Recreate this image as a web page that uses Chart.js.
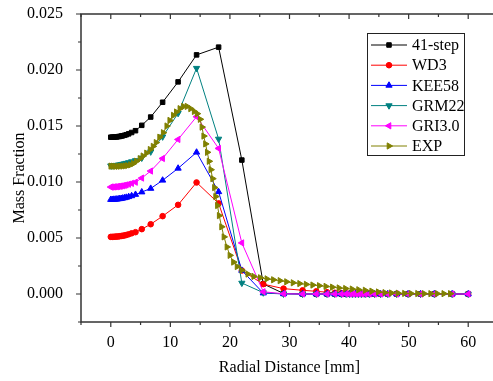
<!DOCTYPE html>
<html>
<head>
<meta charset="utf-8">
<script src="https://cdn.jsdelivr.net/npm/chart.js@4.4.0/dist/chart.umd.min.js"></script>
<style>
  html, body { margin: 0; padding: 0; overflow: hidden; background: #fff; }
  #wrap { width: 493px; height: 381px; overflow: hidden; }
</style>
</head>
<body>
<div id="wrap"><canvas id="massChart" width="500" height="381"></canvas></div>
<script>
// radial positions of the model grid [mm]
const modelX = [0, 0.25, 0.5, 0.75, 1, 1.25, 1.5, 1.75, 2, 2.3, 2.6, 3, 3.5,
    4.15, 5.2, 6.7, 8.7, 11.3, 14.4, 18.1, 22, 25.6, 29,
    32.2, 34.5, 36.3, 37.6, 38.7, 39.5, 40.1, 40.6, 41.1, 41.6, 42.1, 42.7, 43.4, 44.3, 45.3, 46.5, 48, 49.9, 52, 54.3, 57.3, 60];

const step41 = [0.01400, 0.01400, 0.01401, 0.01402, 0.01403, 0.01405, 0.01407, 0.01410, 0.01413, 0.01417, 0.01422, 0.01430, 0.01442,
    0.01458, 0.01506, 0.01580, 0.01712, 0.01894, 0.02135, 0.02204, 0.01196, 0.00090, 0.00005,
    0, 0, 0, 0, 0, 0, 0, 0, 0, 0, 0, 0, 0, 0, 0, 0, 0, 0, 0, 0, 0, 0];

const wd3 = [0.00510, 0.00510, 0.00511, 0.00512, 0.00513, 0.00514, 0.00516, 0.00518, 0.00520, 0.00523, 0.00527, 0.00533, 0.00542,
    0.00552, 0.00579, 0.00623, 0.00695, 0.00796, 0.00996, 0.00809, 0.00210, 0.00088, 0.00048,
    0.00033, 0.00024, 0.00016, 0.00011, 0.00008, 0.00006, 0.00005, 0.00004, 0.00003, 0.00003, 0.00002, 0.00002, 0.00001, 0, 0, 0, 0, 0, 0, 0, 0, 0];

const kee58 = [0.00843, 0.00843, 0.00844, 0.00845, 0.00846, 0.00848, 0.00850, 0.00852, 0.00855, 0.00858, 0.00862, 0.00868, 0.00876,
    0.00888, 0.00910, 0.00942, 0.01015, 0.01122, 0.01265, 0.00912, 0.00210, 0.00008, 0.00001,
    0, 0, 0, 0, 0, 0, 0, 0, 0, 0, 0, 0, 0, 0, 0, 0, 0, 0, 0, 0, 0, 0];

const grm22 = [0.01145, 0.01146, 0.01147, 0.01148, 0.01150, 0.01152, 0.01154, 0.01157, 0.01160, 0.01164, 0.01168, 0.01174, 0.01182,
    0.01192, 0.01215, 0.01270, 0.01404, 0.01614, 0.02016, 0.01384, 0.00098, 0.00012, 0.00001,
    0, 0, 0, 0, 0, 0, 0, 0, 0, 0, 0, 0, 0, 0, 0, 0, 0, 0, 0, 0, 0, 0];

const gri30 = [0.00955, 0.00955, 0.00956, 0.00957, 0.00958, 0.00960, 0.00962, 0.00964, 0.00967, 0.00970, 0.00974, 0.00980, 0.00988,
    0.00998, 0.01035, 0.01098, 0.01210, 0.01380, 0.01583, 0.01300, 0.00456, 0.00020, 0.00002,
    0, 0, 0, 0, 0, 0, 0, 0, 0, 0, 0, 0, 0, 0, 0, 0, 0, 0, 0, 0, 0, 0];

// experiment
const expX = [0, 0.4, 0.8, 1.2, 1.6, 2.0, 2.4, 2.8, 3.3, 3.8, 4.3, 4.9, 5.4, 6.0, 6.6, 7.1, 7.6, 8.2, 8.8, 9.4,
    9.9, 10.5, 11.0, 11.6, 12.2, 12.8, 13.4, 14.0, 14.5, 15.0, 15.3, 15.6, 15.9, 16.2, 16.5, 16.8, 17.1, 17.4, 17.6, 17.9,
    18.2, 18.6, 19.0, 19.5, 20.0, 20.6, 21.2, 22.0, 23.0, 24.0, 25.1, 26.2, 27.3, 28.4, 29.5, 30.6, 31.7, 32.8, 33.9, 35.0,
    36.1, 37.2, 38.3, 39.4, 40.5, 41.6, 42.7, 43.8, 44.9, 46.0, 47.1, 48.2, 49.3, 50.4, 51.5, 52.6, 53.7, 54.8, 55.9, 57.0];
const expY = [0.01142, 0.01141, 0.01140, 0.01140, 0.01141, 0.01142, 0.01144, 0.01147, 0.01153, 0.01165,
    0.01185, 0.01208, 0.01232, 0.01258, 0.01290, 0.01318, 0.01352, 0.01400, 0.01440, 0.01500,
    0.01550, 0.01595, 0.01625, 0.01655, 0.01675, 0.01675, 0.01655, 0.01630, 0.01610, 0.01560,
    0.01490, 0.01410, 0.01340, 0.01265, 0.01185, 0.01110, 0.01030, 0.00950, 0.00870, 0.00790,
    0.00700, 0.00600, 0.00510, 0.00420, 0.00345, 0.00285, 0.00245, 0.00212, 0.00178, 0.00157,
    0.00145, 0.00135, 0.00127, 0.00119, 0.00109, 0.00100, 0.00093, 0.00086, 0.00080, 0.00074,
    0.00068, 0.00061, 0.00054, 0.00049, 0.00044, 0.00038, 0.00033, 0.00025, 0.00018, 0.00012,
    0.00009, 0.00007, 0.00005, 0.00004, 0.00004, 0.00003, 0.00003, 0.00003, 0.00003, 0.00003];

const seriesNames = ["41-step", "WD3", "KEE58", "GRM22", "GRI3.0", "EXP"];
const xTickLabels = [0, 10, 20, 30, 40, 50, 60];
const yTickLabels = ["0.000", "0.005", "0.010", "0.015", "0.020", "0.025"];

const colors = ["#000000", "#ff0000", "#0000ff", "#008080", "#ff00ff", "#808000"];
const markers = [
    {style: "rect", radius: 3.2, rotation: 0},
    {style: "circle", radius: 2.8, rotation: 0},
    {style: "triangle", radius: 3.6, rotation: 0},
    {style: "triangle", radius: 3.6, rotation: 180},
    {style: "triangle", radius: 3.6, rotation: -90},
    {style: "triangle", radius: 3.6, rotation: 90}
];

const serif = "'Liberation Serif', 'Times New Roman', serif";
const toPoints = (xs, ys) => xs.map((x, i) => ({x: x, y: ys[i]}));
const allY = [step41, wd3, kee58, grm22, gri30];

const datasets = seriesNames.map((name, i) => ({
    label: name,
    data: i < 5 ? toPoints(modelX, allY[i]) : toPoints(expX, expY),
    borderColor: colors[i],
    backgroundColor: colors[i],
    borderWidth: 1,
    pointStyle: markers[i].style,
    pointRadius: markers[i].radius,
    pointRotation: markers[i].rotation,
    pointBorderWidth: 1,
    pointHoverRadius: markers[i].radius,
    tension: 0,
    order: 5 - i
}));

const isLabelled = t => t.label !== "" && t.label !== undefined;

// no label overflow padding, the plot box is fixed by hand
const noPad = s => { s.paddingLeft = 0; s.paddingRight = 0; s.paddingTop = 0; s.paddingBottom = 0; };

// frame with Origin style ticks: out on left/bottom, in on top/right
const frameTicks = {
    id: "frameTicks",
    afterDatasetsDraw(chart) {
        const ctx = chart.ctx;
        const {left, right, top, bottom} = chart.chartArea;
        const xs = chart.scales.x, ys = chart.scales.y;
        ctx.save();
        ctx.strokeStyle = "#333";
        ctx.lineWidth = 1.5;
        ctx.strokeRect(left, top, right - left, bottom - top);
        ctx.lineWidth = 1.2;
        ctx.beginPath();
        xs.ticks.forEach(t => {
            const px = xs.getPixelForValue(t.value);
            const len = isLabelled(t) ? 5 : 3;
            ctx.moveTo(px, bottom); ctx.lineTo(px, bottom + len);
            ctx.moveTo(px, top); ctx.lineTo(px, top + len);
        });
        ys.ticks.forEach(t => {
            const py = ys.getPixelForValue(t.value);
            const len = isLabelled(t) ? 5 : 3;
            ctx.moveTo(left, py); ctx.lineTo(left - len, py);
            ctx.moveTo(right, py); ctx.lineTo(right - len, py);
        });
        ctx.stroke();

        // y axis title
        ctx.fillStyle = "#000";
        ctx.font = "16px " + serif;
        ctx.textAlign = "center";
        ctx.textBaseline = "middle";
        ctx.translate(19.5, 178);
        ctx.rotate(-Math.PI / 2);
        ctx.fillText("Mass Fraction", 0, 0);
        ctx.restore();
    }
};

const boxLegend = {
    id: "boxLegend",
    afterDraw(chart) {
        const ctx = chart.ctx;
        const bx = 367.5, by = 33.5, bw = 97, bh = 122;
        ctx.save();
        ctx.fillStyle = "#fff";
        ctx.fillRect(bx, by, bw, bh);
        ctx.strokeStyle = "#222";
        ctx.lineWidth = 1;
        ctx.strokeRect(bx, by, bw, bh);
        ctx.font = "16px " + serif;
        ctx.textBaseline = "middle";
        ctx.textAlign = "left";
        chart.data.datasets.forEach((ds, i) => {
            const y = 45 + i * 20.2;
            ctx.strokeStyle = ds.borderColor;
            ctx.fillStyle = ds.backgroundColor;
            ctx.lineWidth = 1;
            ctx.beginPath();
            ctx.moveTo(371, y); ctx.lineTo(407, y);
            ctx.stroke();
            Chart.helpers.drawPoint(ctx, {
                pointStyle: ds.pointStyle,
                radius: ds.pointRadius,
                rotation: ds.pointRotation,
                borderWidth: 1
            }, 389, y);
            ctx.fillStyle = "#000";
            ctx.fillText(ds.label, 412, y + 1);
        });
        ctx.restore();
    }
};

new Chart(document.getElementById("massChart").getContext("2d"), {
    type: "line",
    data: {datasets: datasets},
    options: {
        responsive: false,
        animation: false,
        devicePixelRatio: 1,
        // canvas is a bit wider than the window: the right frame falls just outside, as in the original
        layout: {autoPadding: false, padding: {top: 14, right: 2, left: 0, bottom: 0}},
        plugins: {legend: {display: false}, tooltip: {enabled: false}},
        scales: {
            x: {
                type: "linear",
                min: -5,
                max: 65,
                grid: {display: false},
                border: {display: false},
                afterFit: s => { s.height = 59; noPad(s); },
                ticks: {
                    stepSize: 5,
                    includeBounds: false,
                    autoSkip: false,
                    maxRotation: 0,
                    padding: 3,
                    color: "#000",
                    font: {family: serif, size: 16},
                    callback: v => xTickLabels.includes(v) ? String(v) : ""
                },
                title: {
                    display: true,
                    text: "Radial Distance [mm]",
                    color: "#000",
                    font: {family: serif, size: 16},
                    padding: {top: 0, bottom: 4}
                }
            },
            y: {
                type: "linear",
                min: -0.0025,
                max: 0.025,
                grid: {display: false},
                border: {display: false},
                afterFit: s => { s.width = 81; noPad(s); },
                ticks: {
                    stepSize: 0.0025,
                    includeBounds: false,
                    autoSkip: false,
                    padding: 10,
                    color: "#000",
                    font: {family: serif, size: 16},
                    callback: v => {
                        const hit = yTickLabels.find(l => Math.abs(parseFloat(l) - v) < 1e-9);
                        return hit === undefined ? "" : hit;
                    }
                }
            }
        }
    },
    plugins: [frameTicks, boxLegend]
});
</script>
</body>
</html>
